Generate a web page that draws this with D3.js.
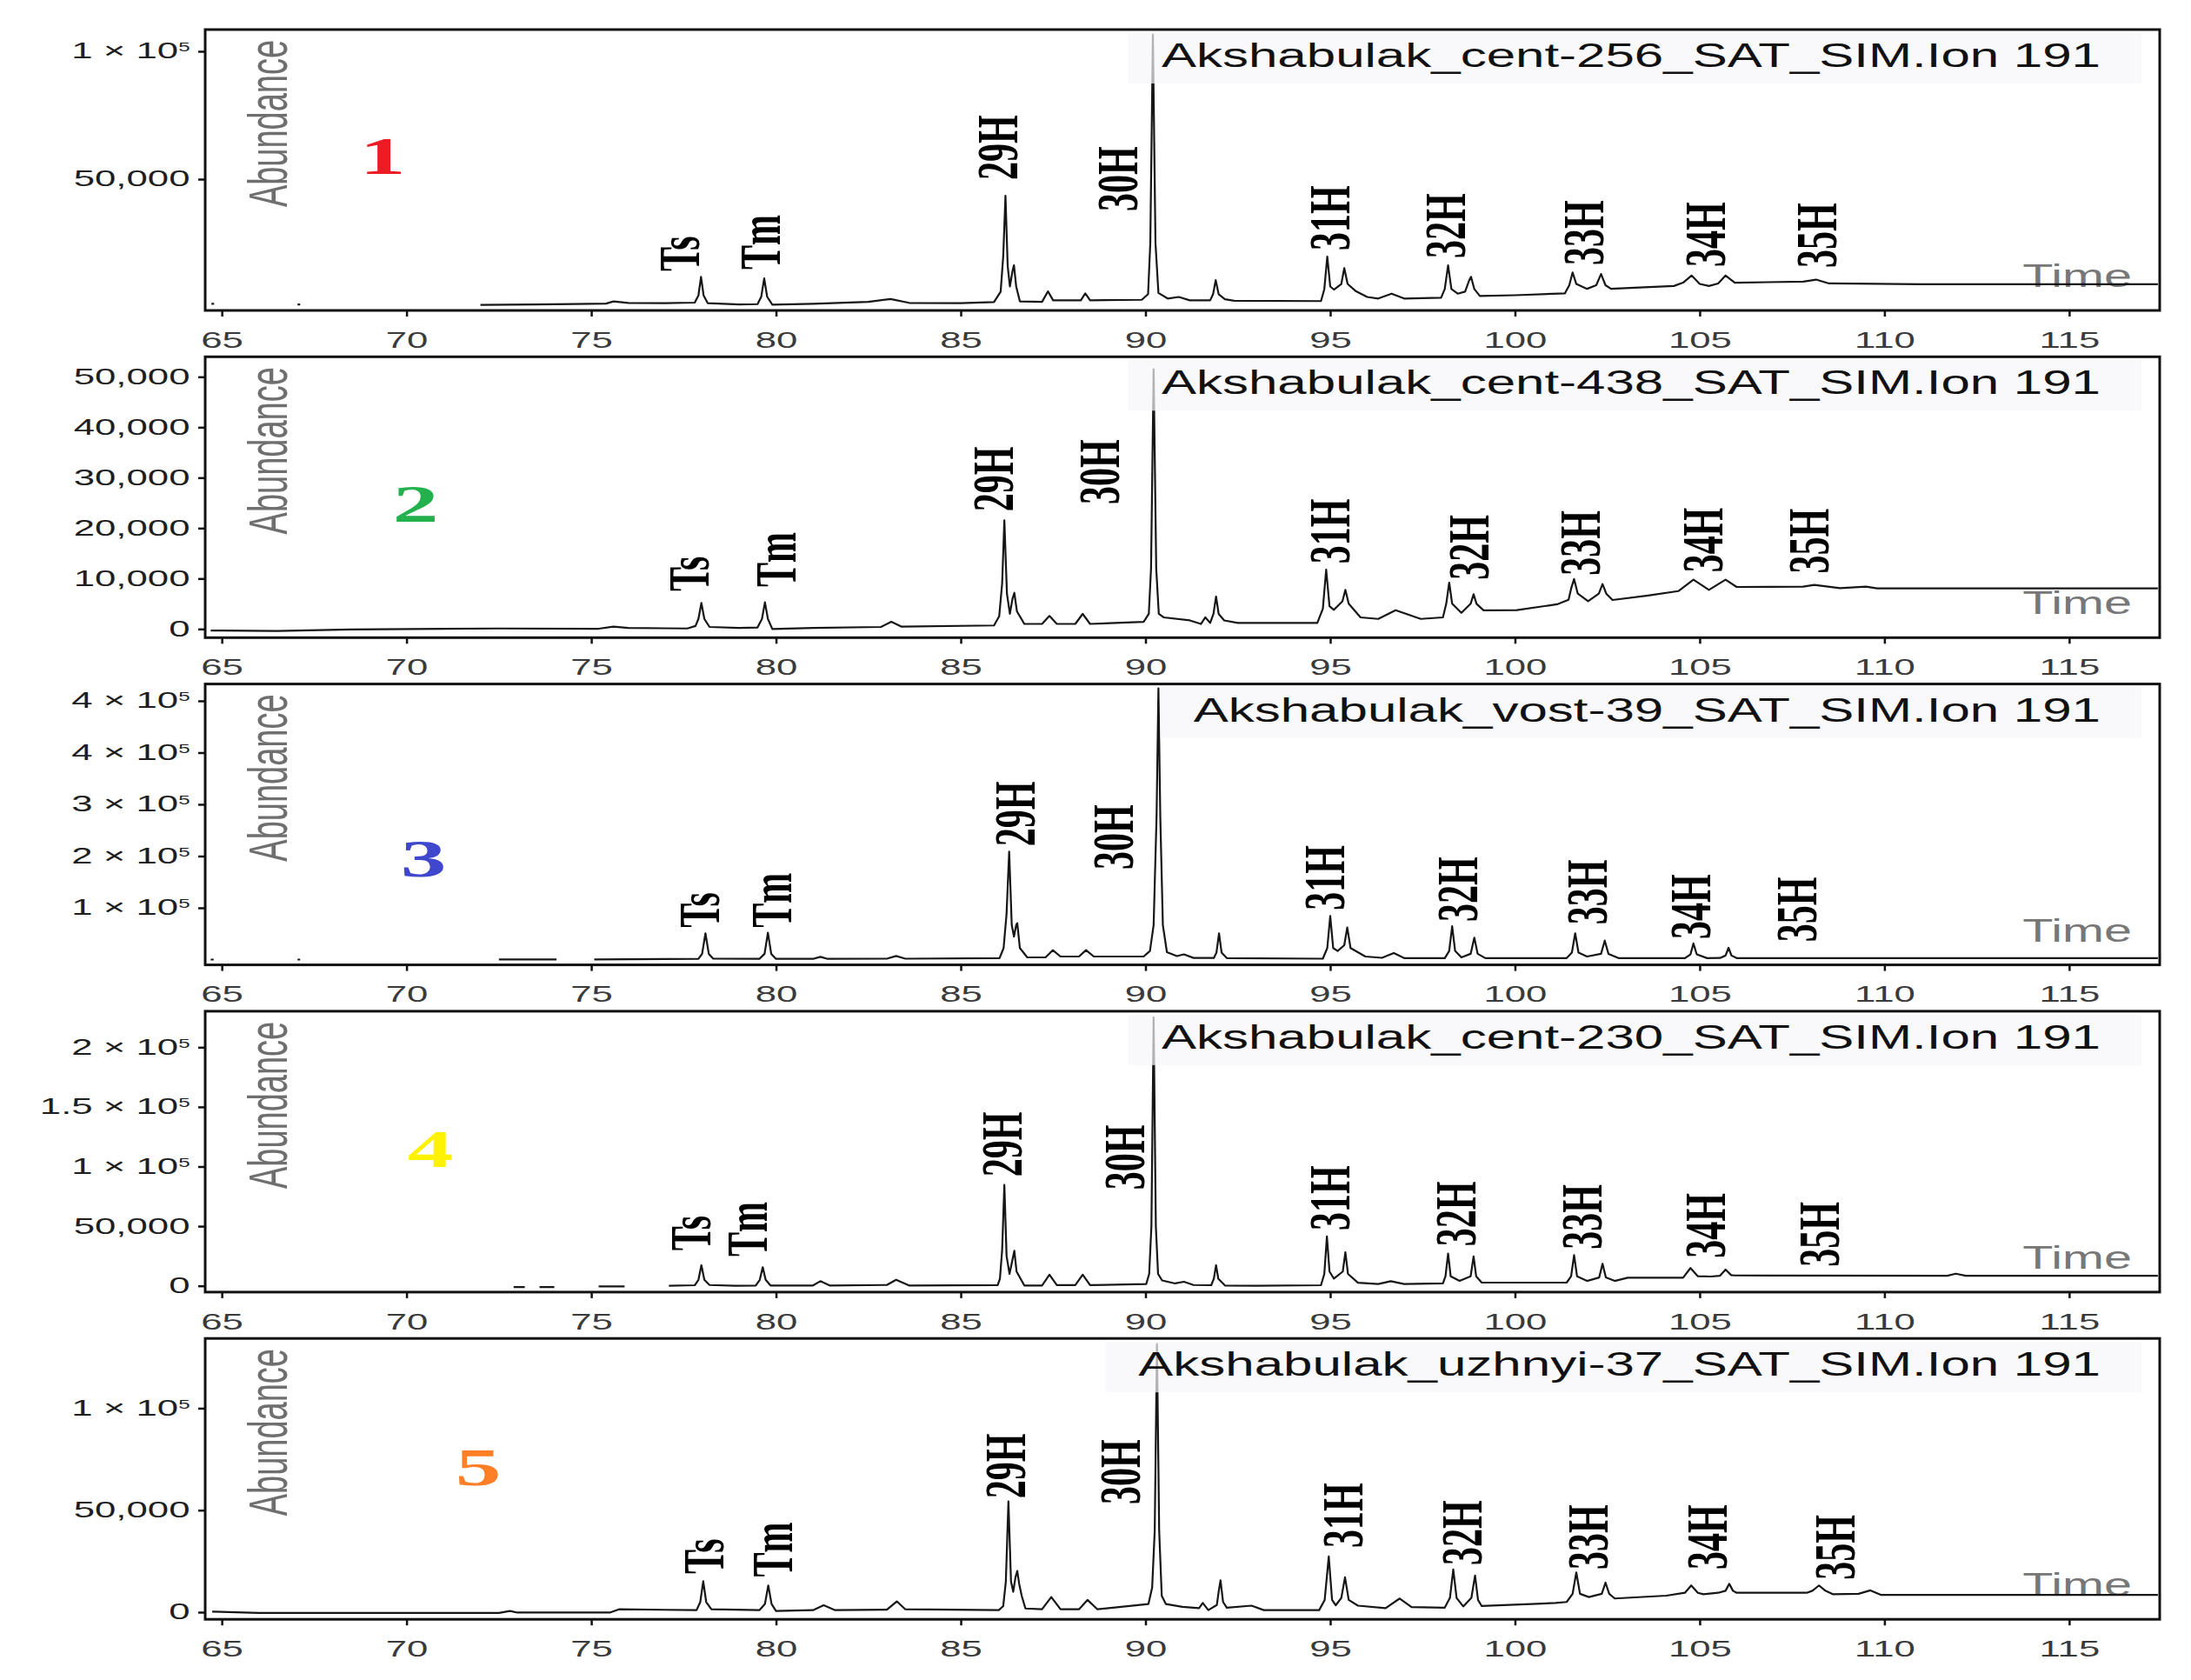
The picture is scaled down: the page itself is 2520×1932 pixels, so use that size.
<!DOCTYPE html>
<html>
<head>
<meta charset="utf-8">
<script src="https://cdn.jsdelivr.net/npm/d3@7"></script>
<style>
  body { margin: 0; background: #fff; }
  svg { display: block; background: #fff; }
</style>
</head>
<body>
<svg width="2520" height="1932"></svg>
<script>
// values
var sampleNames = [
    "Akshabulak_cent-256_SAT_SIM.Ion 191",
    "Akshabulak_cent-438_SAT_SIM.Ion 191",
    "Akshabulak_vost-39_SAT_SIM.Ion 191",
    "Akshabulak_cent-230_SAT_SIM.Ion 191",
    "Akshabulak_uzhnyi-37_SAT_SIM.Ion 191"
];
var panelTags = ["1", "2", "3", "4", "5"];
var tagColors = ["#ed1c24", "#22b14c", "#3f48cc", "#fff200", "#ff7f27"];
var peakNames = ["Ts", "Tm", "29H", "30H", "31H", "32H", "33H", "34H", "35H"];

var xTicks = [65, 70, 75, 80, 85, 90, 95, 100, 105, 110, 115];

var yDomain1 = [-1360, 108500];
var yTicks1 = [50000, 100000];
var yLabels1 = ["50,000", "1 × 10^5"];
var yDomain2 = [-1720, 53970];
var yTicks2 = [0, 10000, 20000, 30000, 40000, 50000];
var yLabels2 = ["0", "10,000", "20,000", "30,000", "40,000", "50,000"];
var yDomain3 = [-9230, 479300];
var yTicks3 = [90000, 180000, 270000, 360000, 450000];
var yLabels3 = ["1 × 10^5", "2 × 10^5", "3 × 10^5", "4 × 10^5", "4 × 10^5"];
var yDomain4 = [-5250, 230200];
var yTicks4 = [0, 50000, 100000, 150000, 200000];
var yLabels4 = ["0", "50,000", "1 × 10^5", "1.5 × 10^5", "2 × 10^5"];
var yDomain5 = [-3500, 134200];
var yTicks5 = [0, 50000, 100000];
var yLabels5 = ["0", "50,000", "1 × 10^5"];

// [time, abundance]; null breaks the trace
var trace1 = [[64.72, 1250], [64.79, 1250], null, [67.05, 1000], [67.12, 1000], null,
    [72.0, 800], [73.5, 1000], [75.0, 1250], [75.4, 1300], [75.6, 2150], [76.0, 1600], [77.0, 1500], [77.8, 1700],
    [77.9, 4500], [77.97, 11800], [78.04, 4500], [78.15, 1500], [79.0, 1000], [79.5, 1100], [79.6, 4000], [79.68, 11200],
    [79.76, 4000], [79.9, 900], [81.0, 1200], [82.5, 2000], [83.1, 3100], [83.6, 1600], [85.0, 1500], [85.9, 1900],
    [86.08, 6000], [86.15, 20000], [86.21, 43500], [86.27, 16000], [86.33, 8000], [86.4, 14000], [86.44, 16300],
    [86.5, 8000], [86.6, 2200], [87.2, 2000], [87.36, 6100], [87.5, 2600], [88.25, 2600], [88.37, 5300], [88.5, 2600],
    [89.9, 2800], [90.07, 5000], [90.13, 25000], [90.2, 106500], [90.27, 25000], [90.35, 5500], [90.6, 3300],
    [90.9, 3900], [91.2, 2600], [91.75, 2600], [91.83, 5000], [91.9, 10500], [91.98, 5000], [92.15, 3000], [92.4, 2400],
    [94.75, 2300], [94.84, 7000], [94.92, 19700], [95.0, 8000], [95.1, 6800], [95.3, 9000], [95.38, 15200], [95.47, 9000],
    [95.7, 6100], [96.0, 3900], [96.3, 3300], [96.66, 5200], [97.0, 3300], [98.0, 3600], [98.1, 7000], [98.19, 16300],
    [98.28, 7000], [98.45, 5200], [98.65, 6000], [98.75, 10000], [98.81, 11800], [98.9, 7000], [99.05, 4300],
    [100.0, 4600], [101.35, 5300], [101.47, 8500], [101.56, 13500], [101.66, 9000], [101.95, 7100], [102.2, 8500],
    [102.33, 12900], [102.45, 8500], [102.6, 7100], [103.5, 7700], [104.3, 8200], [104.55, 9500], [104.78, 12300],
    [105.0, 9000], [105.25, 8200], [105.5, 9200], [105.7, 12300], [105.95, 9500], [107.8, 9900], [108.15, 10700],
    [108.5, 9200], [111.0, 8900], [117.4, 8900]];
var trace2 = [[64.7, -300], [66.5, -400], [68.5, -100], [72.5, 100], [75.2, 50], [75.6, 450], [76.0, 200], [77.6, 100],
    [77.82, 600], [77.9, 2000], [77.98, 5170], [78.06, 2000], [78.2, 400], [79.0, 200], [79.5, 300], [79.62, 2000],
    [79.7, 5300], [79.78, 2000], [79.9, 0], [81.0, 200], [82.84, 400], [83.12, 1430], [83.4, 450], [85.9, 700],
    [86.04, 2500], [86.12, 9000], [86.18, 21550], [86.25, 7000], [86.33, 3000], [86.4, 6000], [86.45, 7170],
    [86.52, 3500], [86.72, 1000], [87.2, 1000], [87.4, 2590], [87.6, 1000], [88.1, 1000], [88.3, 2990], [88.5, 1000],
    [89.95, 1400], [90.09, 3000], [90.15, 12000], [90.22, 51500], [90.29, 12000], [90.36, 3000], [90.49, 2300],
    [91.2, 1700], [91.5, 1000], [91.62, 2300], [91.75, 1200], [91.84, 3000], [91.91, 6430], [91.98, 3000], [92.13, 1700],
    [92.5, 1200], [94.65, 1200], [94.8, 4000], [94.89, 11780], [94.98, 4500], [95.1, 3800], [95.33, 5500], [95.41, 7760],
    [95.5, 5000], [95.82, 2300], [96.3, 2000], [96.77, 3730], [97.45, 2000], [98.05, 2300], [98.14, 5000], [98.22, 9190],
    [98.3, 5000], [98.55, 3200], [98.8, 5000], [98.88, 6900], [98.96, 5000], [99.15, 3700], [100.05, 3730],
    [101.14, 4900], [101.45, 5800], [101.52, 8000], [101.6, 9900], [101.7, 7000], [101.98, 5500], [102.27, 7000],
    [102.37, 8900], [102.47, 7000], [102.64, 5740], [103.6, 6640], [104.42, 7510], [104.83, 9770], [105.25, 7760],
    [105.7, 9770], [106.0, 8330], [107.8, 8400], [108.1, 8730], [108.8, 8100], [109.5, 8400], [109.8, 8040],
    [117.4, 8040]];
var trace3 = [[64.7, 0], [64.78, 0], null, [67.05, 0], [67.12, 0], null, [72.5, 300], [74.06, 300], null,
    [75.08, 300], [77.9, 1200], [78.0, 10000], [78.09, 45700], [78.18, 10000], [78.3, 1500], [79.55, 1200],
    [79.69, 10000], [79.78, 46600], [79.87, 10000], [80.0, 1200], [81.0, 1200], [81.2, 4800], [81.4, 1200], [83.0, 1500],
    [83.25, 6300], [83.5, 1500], [86.05, 2500], [86.16, 20000], [86.24, 80000], [86.31, 187800], [86.38, 60000],
    [86.44, 40000], [86.5, 60000], [86.53, 63300], [86.6, 20000], [86.8, 3800], [87.3, 4000], [87.49, 16400],
    [87.7, 5300], [88.2, 5300], [88.39, 16400], [88.6, 5300], [89.95, 5300], [90.12, 15000], [90.22, 60000],
    [90.3, 250000], [90.35, 471700], [90.4, 250000], [90.47, 60000], [90.58, 12800], [90.85, 6000], [91.04, 9000],
    [91.3, 2800], [91.85, 2800], [91.92, 12000], [91.99, 45700], [92.06, 12000], [92.2, 2500], [94.8, 1500],
    [94.92, 20000], [95.0, 75900], [95.08, 20000], [95.2, 15000], [95.38, 25000], [95.46, 55700], [95.55, 20000],
    [95.95, 5300], [96.4, 3000], [96.72, 11300], [97.0, 2500], [98.1, 2500], [98.22, 15000], [98.3, 58200],
    [98.38, 15000], [98.55, 3800], [98.8, 10000], [98.9, 38100], [98.99, 10000], [99.2, 2500], [101.4, 2500],
    [101.54, 12000], [101.63, 45700], [101.72, 12000], [101.95, 5300], [102.33, 10000], [102.43, 33000],
    [102.53, 10000], [102.8, 2500], [104.6, 2500], [104.75, 9000], [104.83, 28000], [104.92, 9000], [105.2, 2500],
    [105.55, 2800], [105.7, 7000], [105.78, 20400], [105.86, 7000], [106.0, 2500], [117.4, 2500]];
var trace4 = [[72.9, -1000], [73.2, -1000], null, [73.6, -1000], [74.0, -1000], null, [75.2, -500], [75.9, -500], null,
    [77.1, 0], [77.8, 500], [77.9, 5000], [77.98, 17300], [78.06, 5000], [78.2, 700], [78.9, 0], [79.45, 300],
    [79.56, 5000], [79.64, 15600], [79.72, 5000], [79.85, 300], [81.0, 300], [81.2, 3900], [81.45, 300], [83.0, 700],
    [83.25, 5100], [83.6, 300], [86.0, 600], [86.06, 6000], [86.12, 30000], [86.18, 84600], [86.24, 25000],
    [86.32, 10000], [86.4, 22000], [86.45, 29400], [86.51, 12000], [86.72, 300], [87.2, 300], [87.4, 9300], [87.6, 600],
    [88.1, 600], [88.3, 9300], [88.5, 600], [90.02, 1500], [90.1, 10000], [90.16, 50000], [90.22, 225000],
    [90.28, 50000], [90.34, 10000], [90.45, 4500], [90.8, 2000], [91.04, 3400], [91.3, 700], [91.78, 500], [91.85, 6000],
    [91.91, 17300], [91.97, 6000], [92.15, 300], [93.0, 0], [94.75, 500], [94.84, 10000], [94.91, 41500], [94.98, 12000],
    [95.1, 6000], [95.34, 12000], [95.41, 28200], [95.48, 10000], [95.75, 2600], [96.3, 1500], [96.64, 3900],
    [97.0, 1500], [98.05, 2000], [98.12, 8000], [98.19, 27000], [98.26, 8000], [98.5, 4100], [98.8, 8000],
    [98.88, 24600], [98.95, 8000], [99.1, 2700], [101.4, 2700], [101.52, 8000], [101.6, 25800], [101.68, 8000],
    [101.95, 4100], [102.28, 7000], [102.37, 18500], [102.46, 7000], [102.7, 4100], [103.05, 6800], [104.55, 6800],
    [104.75, 14900], [104.95, 8000], [105.3, 7800], [105.55, 8500], [105.7, 13600], [105.85, 9000], [105.95, 8700],
    [111.7, 8400], [111.93, 10200], [112.2, 8400], [117.4, 8400]];
var trace5 = [[64.74, 300], [66.0, -400], [72.5, -400], [72.8, 600], [73.0, -200], [75.5, -200], [75.75, 1400],
    [77.85, 1000], [77.95, 5000], [78.03, 15200], [78.11, 5000], [78.25, 1400], [79.55, 1000], [79.7, 4000],
    [79.79, 13100], [79.88, 4000], [80.0, 600], [81.0, 1000], [81.29, 3400], [81.6, 1000], [83.0, 1200], [83.27, 5300],
    [83.5, 1400], [86.03, 1000], [86.15, 3000], [86.22, 15000], [86.29, 54300], [86.36, 15000], [86.42, 10000],
    [86.48, 17000], [86.53, 20200], [86.58, 14000], [86.65, 8000], [86.75, 1800], [87.2, 1400], [87.45, 7400],
    [87.7, 1400], [88.2, 1400], [88.43, 6000], [88.7, 1400], [90.08, 4000], [90.18, 12000], [90.25, 40000],
    [90.31, 131500], [90.37, 40000], [90.44, 8000], [90.55, 4000], [91.0, 2600], [91.45, 2000], [91.55, 4500],
    [91.7, 1000], [91.93, 3500], [91.98, 10000], [92.03, 15600], [92.1, 5000], [92.2, 2200], [92.87, 3200], [93.2, 1000],
    [94.7, 1000], [94.85, 6000], [94.96, 27300], [95.05, 6000], [95.15, 3400], [95.3, 7000], [95.4, 17100], [95.5, 6000],
    [95.75, 3200], [96.5, 2000], [96.88, 6700], [97.2, 2500], [98.1, 2200], [98.24, 7000], [98.33, 20900], [98.42, 7000],
    [98.6, 2800], [98.82, 7000], [98.92, 18000], [99.0, 6000], [99.1, 3000], [101.1, 4500], [101.4, 5000], [101.56, 9000],
    [101.66, 19500], [101.76, 9000], [102.0, 7400], [102.35, 9000], [102.45, 14500], [102.55, 9000], [102.7, 6700],
    [104.1, 8100], [104.6, 9500], [104.77, 13100], [104.95, 9500], [105.1, 8800], [105.5, 9500], [105.7, 10500],
    [105.8, 13900], [105.9, 10500], [106.0, 9500], [107.9, 9500], [108.05, 10500], [108.23, 13100], [108.4, 10500],
    [108.6, 8800], [109.3, 9000], [109.62, 10700], [109.9, 8500], [117.4, 8500]];

// where each peak name starts (time, abundance)
var peakTimes1 = [77.39, 79.59, 86.01, 89.25, 94.99, 98.13, 101.87, 105.16, 108.18];
var peakLevels1 = [13950, 14600, 49660, 37400, 22100, 19050, 16300, 15650, 15300];
var peakTimes2 = [77.65, 80.0, 85.9, 88.77, 95.0, 98.77, 101.77, 105.1, 107.97];
var peakLevels2 = [7460, 8330, 23270, 24700, 12930, 9760, 10620, 11200, 11000];
var peakTimes3 = [77.93, 79.89, 86.48, 89.13, 94.86, 98.46, 101.96, 104.77, 107.64];
var peakLevels3 = [55700, 55700, 197000, 156600, 85900, 65800, 60800, 35500, 30500];
var peakTimes4 = [77.71, 79.24, 86.12, 89.45, 95.0, 98.41, 101.82, 105.16, 108.24];
var peakLevels4 = [29400, 24600, 91400, 80500, 46400, 33100, 30600, 23300, 16000];
var peakTimes5 = [78.05, 79.91, 86.23, 89.33, 95.36, 98.57, 101.99, 105.22, 108.67];
var peakLevels5 = [18800, 17300, 55700, 52900, 31500, 23000, 20900, 20900, 15900];

// layout
var plotLeft = 236, plotRight = 2484;
var panelTop0 = 34, panelStep = 376.3, panelHeight = 323;
var tagX = [440, 478, 487, 495, 550];
var tagDrop = [166, 190, 221, 179, 169];
var sans = "'Liberation Sans', Arial, sans-serif";
var serif = "'Liberation Serif', 'Times New Roman', serif";

var x = d3.scaleLinear([64.55, 117.45], [plotLeft, plotRight]);

var panels = [
    {trace: trace1, domain: yDomain1, ticks: yTicks1, labels: yLabels1, peakT: peakTimes1, peakV: peakLevels1},
    {trace: trace2, domain: yDomain2, ticks: yTicks2, labels: yLabels2, peakT: peakTimes2, peakV: peakLevels2},
    {trace: trace3, domain: yDomain3, ticks: yTicks3, labels: yLabels3, peakT: peakTimes3, peakV: peakLevels3},
    {trace: trace4, domain: yDomain4, ticks: yTicks4, labels: yLabels4, peakT: peakTimes4, peakV: peakLevels4},
    {trace: trace5, domain: yDomain5, ticks: yTicks5, labels: yLabels5, peakT: peakTimes5, peakV: peakLevels5}
];

var svg = d3.select("svg");
panels.forEach(function(p, i) {
    drawPanel(p, i);
});

function drawPanel(p, i) {
    var top = panelTop0 + i * panelStep;
    var bottom = top + panelHeight;
    var y = d3.scaleLinear(p.domain, [bottom, top]);
    var g = svg.append("g");

    g.append("clipPath")
        .attr("id", "clip" + i)
        .append("rect")
            .attr("x", plotLeft)
            .attr("y", top)
            .attr("width", plotRight - plotLeft)
            .attr("height", panelHeight);

    g.append("text")
        .attr("transform", "translate(307," + (top + 108) + ") scale(1.65,1) rotate(-90)")
        .attr("text-anchor", "middle")
        .attr("dy", "0.36em")
        .attr("font-family", sans)
        .attr("font-size", 38)
        .attr("fill", "#6f6f6f")
        .text("Abundance");

    g.append("text")
        .attr("transform", "translate(" + tagX[i] + "," + (top + tagDrop[i]) + ") scale(1.7,1)")
        .attr("text-anchor", "middle")
        .attr("font-family", serif)
        .attr("font-weight", "bold")
        .attr("font-size", 62)
        .attr("fill", tagColors[i])
        .text(panelTags[i]);

    g.append("text")
        .attr("transform", "translate(2452," + (bottom - 27) + ") scale(1.6,1)")
        .attr("text-anchor", "end")
        .attr("font-family", sans)
        .attr("font-size", 36)
        .attr("fill", "#777")
        .text("Time");

    var line = d3.line()
        .defined(function(d) { return d != null; })
        .x(function(d) { return x(d[0]); })
        .y(function(d) { return y(d[1]); });

    g.append("path")
        .datum(p.trace)
        .attr("clip-path", "url(#clip" + i + ")")
        .attr("fill", "none")
        .attr("stroke", "#161616")
        .attr("stroke-width", 2.2)
        .attr("stroke-linejoin", "round")
        .attr("d", line);

    g.selectAll("text.peak")
        .data(peakNames)
        .enter()
            .append("text")
            .attr("class", "peak")
            .attr("transform", function(d, k) {
                return "translate(" + x(p.peakT[k]) + "," + y(p.peakV[k]) + ") scale(1.6,1) rotate(-90)";
            })
            .attr("dy", "0.33em")
            .attr("font-family", serif)
            .attr("font-weight", "bold")
            .attr("font-size", 42)
            .attr("fill", "#000")
            .text(function(d) { return d; });

    // sample name in a pale box, top right
    var title = g.append("text")
        .attr("transform", "translate(2416," + (top + 43) + ") scale(1.58,1)")
        .attr("text-anchor", "end")
        .attr("font-family", sans)
        .attr("font-size", 38)
        .attr("fill", "#111")
        .text(sampleNames[i]);
    var bb = title.node().getBBox();
    var boxLeft = 2416 - bb.width * 1.58 - 38;
    g.insert("rect", function() { return title.node(); })
        .attr("x", boxLeft)
        .attr("y", top + 4)
        .attr("width", 2463 - boxLeft)
        .attr("height", 58)
        .attr("fill", "#f6f7fa")
        .attr("fill-opacity", 0.7);

    var xAxis = d3.axisBottom(x).tickValues(xTicks).tickSize(7).tickPadding(18);
    var xg = g.append("g")
        .attr("transform", "translate(0," + bottom + ")")
        .call(xAxis);
    xg.select(".domain").remove();
    xg.selectAll(".tick line").attr("stroke", "#111").attr("stroke-width", 2.5);
    xg.selectAll(".tick text")
        .attr("transform", "scale(1.75,1)")
        .attr("font-family", sans)
        .attr("font-size", 25)
        .attr("fill", "#3a3a3a");

    var yAxis = d3.axisLeft(y).tickValues(p.ticks).tickSize(8).tickPadding(2);
    var yg = g.append("g")
        .attr("transform", "translate(" + plotLeft + ",0)")
        .call(yAxis);
    yg.select(".domain").remove();
    yg.selectAll(".tick line").attr("stroke", "#111").attr("stroke-width", 2.5);
    yg.selectAll(".tick text")
        .attr("transform", "scale(1.75,1)")
        .attr("font-family", sans)
        .attr("font-size", 25)
        .attr("fill", "#1e1e1e")
        .each(function(d, k) {
            var parts = p.labels[k].split("^");
            var t = d3.select(this).text(parts[0]);
            if (parts[1]) {
                t.append("tspan")
                    .attr("dy", "-0.6em")
                    .attr("font-size", "0.55em")
                    .text(parts[1]);
            }
        });

    g.append("rect")
        .attr("x", plotLeft)
        .attr("y", top)
        .attr("width", plotRight - plotLeft)
        .attr("height", panelHeight)
        .attr("fill", "none")
        .attr("stroke", "#111")
        .attr("stroke-width", 3);
}
</script>
</body>
</html>
